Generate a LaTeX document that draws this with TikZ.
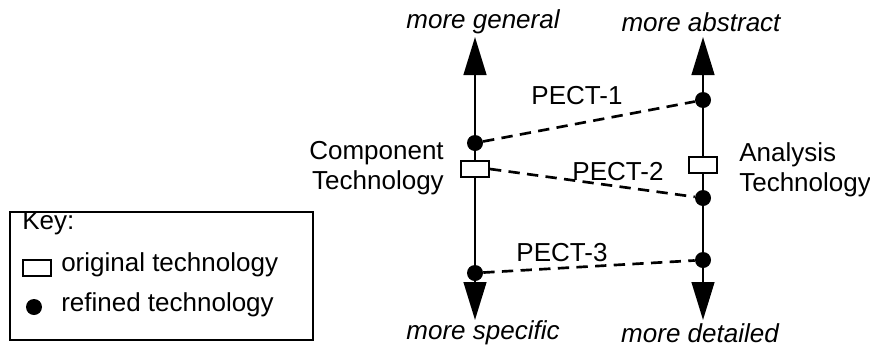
\documentclass[tikz,border=0pt]{standalone}
\usepackage{fontspec}
\setmainfont{Liberation Sans}
\usetikzlibrary{arrows.meta}
\begin{document}
\begin{tikzpicture}[x=0.75pt,y=-0.75pt,
  txt/.style={font=\fontsize{19.5}{22.5}\selectfont, inner sep=0pt},
  itxt/.style={font=\fontsize{19.5}{22.5}\selectfont\itshape, inner sep=0pt},
  dot/.style={circle, fill=black, inner sep=0pt, minimum size=12pt},
  orig/.style={draw=black, fill=white, line width=1.5pt, minimum width=21pt, minimum height=12pt, inner sep=0pt},
  axis/.style={line width=1.8pt, {Triangle[length=28.5pt,width=17pt]}-{Triangle[length=28.5pt,width=17pt]}},
  link/.style={line width=2pt, dash pattern=on 8.5pt off 5.5pt}
]
\useasboundingbox (0,0) rectangle (870,347);
% axes
\coordinate (Ltop) at (475,37);
\coordinate (Lbot) at (475,320);
\coordinate (Rtop) at (703,37);
\coordinate (Rbot) at (703,320);
\draw[axis] (Lbot) -- (Ltop);
\draw[axis] (Rbot) -- (Rtop);
% nodes
\node[dot] (l1) at (475,143) {};
\node[orig] (lo) at (475,169) {};
\node[dot] (l3) at (475,273) {};
\node[dot] (r1) at (703,100) {};
\node[orig] (ro) at (703,165) {};
\node[dot] (r2) at (703,198) {};
\node[dot] (r3) at (703,260) {};
% links
\draw[link] (l1) -- (r1);
\draw[link] (lo.east) -- (r2);
\draw[link] (l3) -- (r3);
% labels
\node[itxt] (mg) at (483,22) {more general};
\node[itxt] (ma) at (701,22) {more abstract};
\node[itxt] (ms) at (483,333) {more specific};
\node[itxt] (md) at (700,333) {more detailed};
\node[txt] (p1) at (577,96) {PECT-1};
\node[txt] (p2) at (618,172) {PECT-2};
\node[txt] (p3) at (562,253) {PECT-3};
\node[txt, align=right, anchor=east] (ct) at (444,168) {Component\\Technology};
\node[txt, align=left, anchor=west] (at) at (739,170) {Analysis\\Technology};
% key
\draw[line width=1.1pt] (10,212) rectangle (313,340);
\node[txt, anchor=west] (keyt) at (22,223) {Key:};
\node[orig] (ko) at (37,268) {};
\node[txt, anchor=west] (kot) at (61,265) {original technology};
\node[dot] (kd) at (34,307) {};
\node[txt, anchor=west] (kdt) at (61,305) {refined technology};
\end{tikzpicture}
\end{document}
